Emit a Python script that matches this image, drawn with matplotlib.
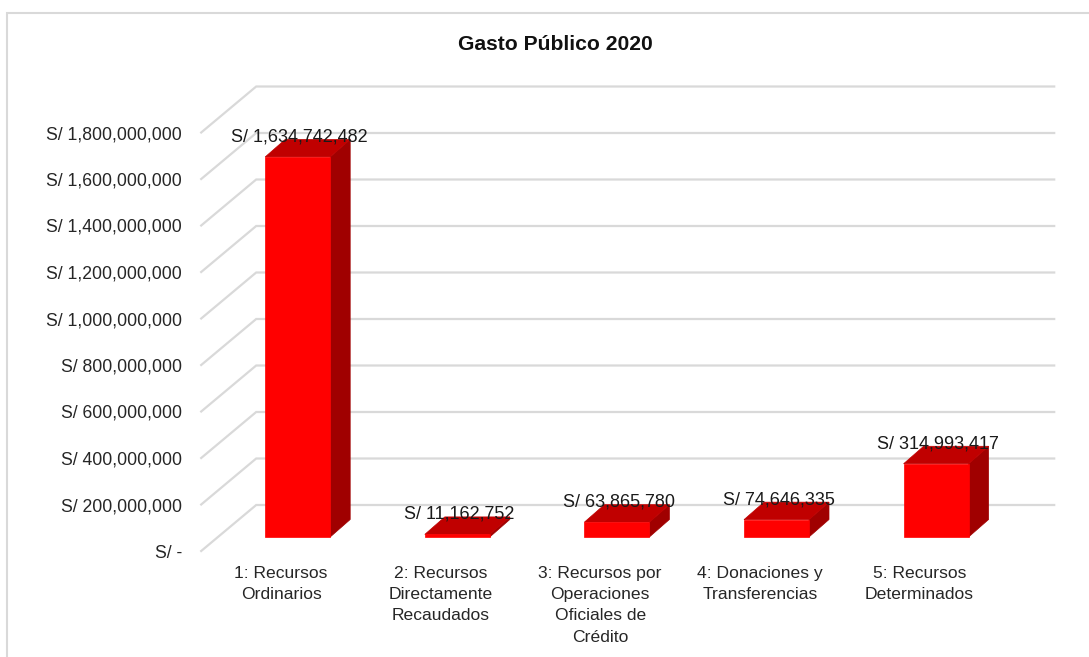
import matplotlib
matplotlib.use("Agg")
import matplotlib.pyplot as plt
from matplotlib.patches import Polygon, Rectangle
from matplotlib.ticker import FuncFormatter

plt.rcParams['font.family'] = ['Liberation Sans', 'DejaVu Sans']

# ---- data ----
categories = ["1: Recursos\nOrdinarios",
              "2: Recursos\nDirectamente\nRecaudados",
              "3: Recursos por\nOperaciones\nOficiales de\nCrédito",
              "4: Donaciones y\nTransferencias",
              "5: Recursos\nDeterminados"]
values = [1634742482, 11162752, 63865780, 74646335, 314993417]
yticks = [0, 200e6, 400e6, 600e6, 800e6, 1000e6, 1200e6, 1400e6, 1600e6, 1800e6]
title = "Gasto Público 2020"

# ---- figure / layout ----
W, H, DPI = 1089, 657, 100
fig = plt.figure(figsize=(W / DPI, H / DPI), dpi=DPI)
fig.patch.set_facecolor("white")

ax_left_px, ax_right_px = 201.2, 999.2
ax_bottom_px, ax_top_px = 551.0, 132.5   # image y coords (from top)
ax = fig.add_axes([ax_left_px / W, (H - ax_bottom_px) / H,
                   (ax_right_px - ax_left_px) / W, (ax_bottom_px - ax_top_px) / H])
XMIN, XMAX, YMAX = -0.5, len(values) - 0.5, 1.8e9
ax.set_xlim(XMIN, XMAX)
ax.set_ylim(0, YMAX)
for s in ax.spines.values():
    s.set_visible(False)
ax.set_facecolor("none")

sx = (ax_right_px - ax_left_px) / (XMAX - XMIN)      # px per category unit
sy = (ax_bottom_px - ax_top_px) / YMAX               # px per value unit

def dx(px):
    return px / sx

def dy(px):
    return px / sy

# depth offsets (pixels)
WALL = (55, 46)
BAR_FRONT = (16.7, 14)
BAR_DEPTH = (20, 17.5)
BAR_W = 65 / sx

grid_color = "#D9D9D9"

# gridlines: floor/left wall diagonal + back wall horizontal
for v in yticks:
    ax.plot([XMIN, XMIN + dx(WALL[0]), XMAX + dx(WALL[0])],
            [v, v + dy(WALL[1]), v + dy(WALL[1])],
            color=grid_color, lw=1.6, clip_on=False, zorder=1,
            solid_joinstyle="miter")

# y tick labels
ax.set_xticks([])
ax.set_yticks(yticks)
ax.yaxis.set_major_formatter(FuncFormatter(lambda v, p: "S/ -" if v == 0 else f"S/ {v:,.0f}"))
ax.tick_params(axis="y", length=0, pad=13.7, labelsize=12.7, labelcolor="#262626")

# 3D-style bars
front_c, top_c, side_c = "#FF0000", "#C00000", "#A00000"
for i, v in enumerate(values):
    x0 = i + dx(BAR_FRONT[0]) - BAR_W / 2
    x1 = x0 + BAR_W
    y0 = dy(BAR_FRONT[1])
    y1 = y0 + v
    ddx, ddy = dx(BAR_DEPTH[0]), dy(BAR_DEPTH[1])
    front = Polygon([(x0, y0), (x1, y0), (x1, y1), (x0, y1)], closed=True,
                    facecolor=front_c, edgecolor=front_c, lw=0.5, clip_on=False, zorder=3)
    side = Polygon([(x1, y0), (x1 + ddx, y0 + ddy), (x1 + ddx, y1 + ddy), (x1, y1)],
                   closed=True, facecolor=side_c, edgecolor=side_c, lw=0.5, clip_on=False, zorder=3)
    top = Polygon([(x0, y1), (x1, y1), (x1 + ddx, y1 + ddy), (x0 + ddx, y1 + ddy)],
                  closed=True, facecolor=top_c, edgecolor=top_c, lw=0.5, clip_on=False, zorder=3)
    for p in (side, top, front):
        ax.add_patch(p)
    ax.text((x0 + x1) / 2 + dx(2), y1 + dy(20), f"S/ {v:,.0f}",
            ha="center", va="center", fontsize=13, color="#1a1a1a",
            zorder=5, clip_on=False)

# category labels
for i, c in enumerate(categories):
    ax.text(i, -dy(15), c, ha="center", va="top", fontsize=12.6,
            color="#262626", linespacing=1.52, clip_on=False, zorder=5)

# title
fig.text(555 / W, 1 - 44 / H, title, ha="center", va="center",
         fontsize=15.2, fontweight="bold", color="#111111")

# outer chart border
fig.patches.append(Rectangle((7 / W, -0.05), 1.2, 1 - 13 / H + 0.05,
                             transform=fig.transFigure, fill=False,
                             edgecolor="#D9D9D9", lw=1.5, zorder=0))

fig.savefig("out.png", dpi=DPI, facecolor="white")
